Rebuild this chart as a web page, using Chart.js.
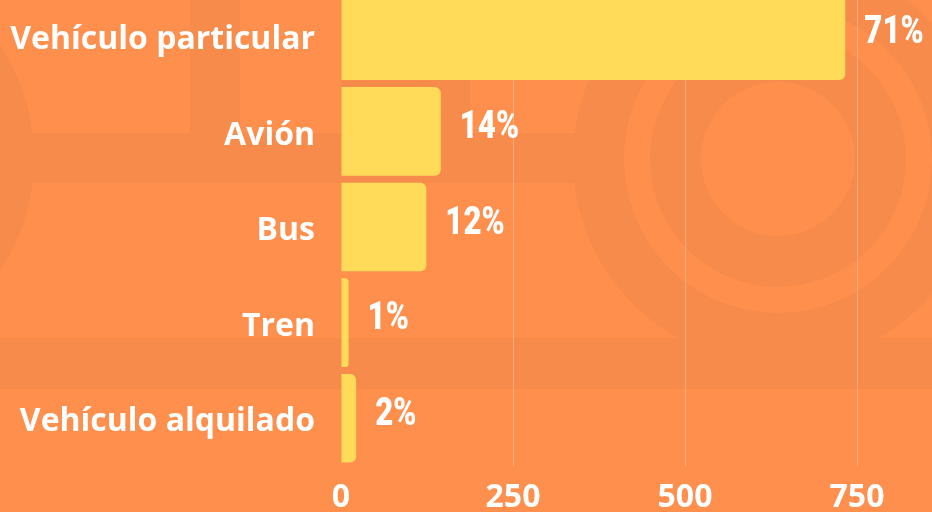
<!DOCTYPE html>
<html><head><meta charset="utf-8">
<script src="https://cdn.jsdelivr.net/npm/chart.js@4/dist/chart.umd.min.js"></script>
<style>
html,body{margin:0;padding:0;width:932px;height:512px;overflow:hidden;background:#FF8F4C;}
#bg{position:absolute;left:0;top:0;}
#wrap{position:absolute;left:0;top:-12px;width:1029px;height:538px;}
</style></head><body>
<svg id="bg" width="932" height="512" xmlns="http://www.w3.org/2000/svg">
  <rect x="0" y="0" width="932" height="512" fill="#FF8F4C"/>
  <circle cx="-171" cy="158" r="205" fill="#F78B4B"/>
  <rect x="190" y="0" width="50" height="133" fill="#F78B4B"/>
  <rect x="341" y="0" width="129" height="133" fill="#F78B4B"/>
  <rect x="0" y="133" width="578" height="50" fill="#F78B4B"/>
  <rect x="0" y="338" width="932" height="51" fill="#F78B4B"/>
  <circle cx="778" cy="159" r="205" fill="#F78B4B"/>
  <circle cx="778" cy="159" r="154" fill="#FF8F4C"/>
  <circle cx="778" cy="159" r="128" fill="#F78B4B"/>
  <circle cx="778" cy="159" r="77" fill="#FF8F4C"/>
</svg>
<div id="wrap"><canvas id="c"></canvas></div>
<script>
const categories = ['Vehículo particular', 'Avión', 'Bus', 'Tren', 'Vehículo alquilado'];
const values = [733, 145, 124, 11, 22];
const percentLabels = ['71%', '14%', '12%', '1%', '2%'];
const xMin = 0, xMax = 1000, xStep = 250;

const labelFont = { family: "'Open Sans', sans-serif", size: 32, weight: 'bold' };

const percentPlugin = {
  id: 'percentLabels',
  afterDatasetsDraw(chart) {
    const ctx = chart.ctx;
    const meta = chart.getDatasetMeta(0);
    meta.data.forEach((bar, i) => {
      ctx.save();
      ctx.font = "900 39px Roboto, sans-serif";
      ctx.fillStyle = '#FFFFFF';
      ctx.textAlign = 'left';
      ctx.textBaseline = 'middle';
      ctx.translate(bar.x + 19, bar.y - 3);
      ctx.scale(0.8, 1);
      ctx.fillText(percentLabels[i], 0, 0);
      ctx.restore();
    });
  }
};

new Chart(document.getElementById('c'), {
  type: 'bar',
  data: {
    labels: categories,
    datasets: [{
      data: values,
      backgroundColor: '#FFDB59',
      borderRadius: 6,
      borderSkipped: 'start',
      barPercentage: 0.927,
      categoryPercentage: 1
    }]
  },
  options: {
    indexAxis: 'y',
    responsive: true,
    maintainAspectRatio: false,
    animation: false,
    layout: { padding: 0 },
    plugins: { legend: { display: false }, tooltip: { enabled: false } },
    scales: {
      x: {
        type: 'linear', min: xMin, max: xMax,
        ticks: { stepSize: xStep, color: '#FFFFFF', font: labelFont, padding: 13 },
        grid: {
          drawTicks: false,
          color: (c) => (c.tick && c.tick.value === 0) ? 'rgba(0,0,0,0)' : 'rgba(255,255,255,0.28)',
          lineWidth: 1
        },
        border: { display: false },
        afterFit: (s) => { s.height = 60; s.paddingLeft = 0; s.paddingRight = 0; }
      },
      y: {
        type: 'category',
        ticks: { color: '#FFFFFF', font: labelFont, padding: 26, labelOffset: 4 },
        grid: { display: false, drawTicks: false },
        border: { display: false },
        afterFit: (s) => { s.width = 341; s.paddingTop = 0; s.paddingBottom = 0; }
      }
    }
  },
  plugins: [percentPlugin]
});
</script>
</body></html>
